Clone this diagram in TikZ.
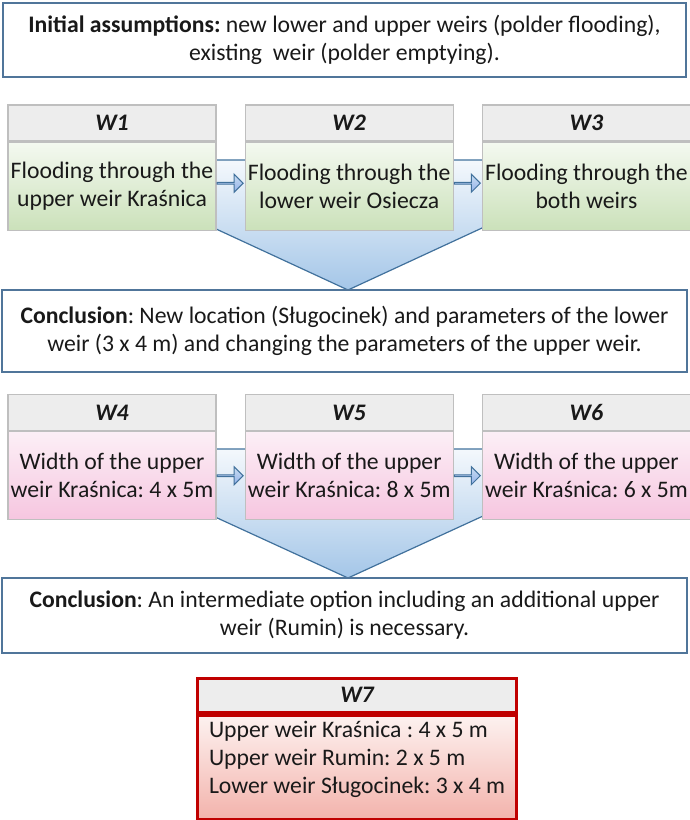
\documentclass[tikz,border=0pt]{standalone}
\usepackage{fontspec}
\setmainfont{Carlito}
\usepackage{xcolor}
\definecolor{colorFrame}{HTML}{50759A}
\definecolor{colorLine}{HTML}{41719C}
\definecolor{colorFunnel}{HTML}{A4C6E8}
\definecolor{colorHead}{HTML}{EDEDED}
\definecolor{colorBorder}{HTML}{BFBFBF}
\definecolor{colorGreenTop}{HTML}{F4F9F0}
\definecolor{colorGreenBot}{HTML}{CBE1BA}
\definecolor{colorPinkTop}{HTML}{FCEFF6}
\definecolor{colorPinkBot}{HTML}{F6C6E0}
\definecolor{colorRedTop}{HTML}{FDF2F0}
\definecolor{colorRedBot}{HTML}{F3B3AC}
\definecolor{colorW7}{HTML}{C00000}
\usepackage{tikz}
\usetikzlibrary{positioning, shapes.arrows}

\begin{document}
\frenchspacing
\begin{tikzpicture}[x=1pt, y=-1pt, font=\fontsize{23.7}{28}\selectfont,
  every node/.style={text=black!90},
  note/.style={draw=colorFrame, line width=1.5pt, fill=white, align=center},
  head/.style={draw=colorBorder, line width=1.2pt, fill=colorHead, minimum width=208pt, minimum height=36pt, font=\fontsize{23.7}{28}\selectfont\bfseries\itshape},
  variant/.style={draw=colorBorder, line width=1.2pt, minimum width=208pt, minimum height=88pt, align=center, inner sep=1pt},
  flood/.style={variant, top color=colorGreenTop, bottom color=colorGreenBot},
  widthv/.style={variant, top color=colorPinkTop, bottom color=colorPinkBot},
  funnel/.style={draw=colorLine, line width=1.2pt, top color=colorFunnel!12, bottom color=colorFunnel},
  flowarrow/.style={single arrow, draw=colorLine, line width=1pt, top color=colorFunnel!60, bottom color=colorFunnel!90!blue, minimum height=26pt, minimum width=18pt, single arrow head extend=4.5pt, inner sep=0pt, anchor=tail}]
\useasboundingbox (0,0) rectangle (689,820);
% funnels behind the variants
\path[funnel] (67,160) -- (629,160) -- (348,290) -- cycle;
\path[funnel] (67,449) -- (629,449) -- (348,578) -- cycle;

\node[note, minimum width=683pt, minimum height=74pt] (init) at (344.5,40) {\textbf{Initial assumptions:} new lower and upper weirs (polder flooding),\\existing\ \ weir (polder emptying).};

% first series
\node[head] (w1h) at (112,123) {W1};
\node[flood, below=0pt of w1h] (w1) {Flooding through the\\upper weir Kraśnica};
\node[head, right=28pt of w1h] (w2h) {W2};
\node[flood, below=0pt of w2h] (w2) {Flooding through the\\lower weir Osiecza};
\node[head, right=28pt of w2h] (w3h) {W3};
\node[flood, below=0pt of w3h] (w3) {Flooding through the\\both weirs};
\node[flowarrow] (a12) at ([yshift=3pt]w1.east) {};
\node[flowarrow] (a23) at ([yshift=3pt]w2.east) {};

\node[note, minimum width=685pt, minimum height=82pt] (c1) at (344.5,331) {\textbf{Conclusion}: New location (Sługocinek) and parameters of the lower\\weir (3 x 4 m) and changing the parameters of the upper weir.};

% second series
\node[head] (w4h) at (112,412.5) {W4};
\node[widthv, below=0pt of w4h] (w4) {Width of the upper\\weir Kraśnica: 4 x 5m};
\node[head, right=28pt of w4h] (w5h) {W5};
\node[widthv, below=0pt of w5h] (w5) {Width of the upper\\weir Kraśnica: 8 x 5m};
\node[head, right=28pt of w5h] (w6h) {W6};
\node[widthv, below=0pt of w6h] (w6) {Width of the upper\\weir Kraśnica: 6 x 5m};
\node[flowarrow] (a45) at (w4.east) {};
\node[flowarrow] (a56) at (w5.east) {};

\node[note, minimum width=685pt, minimum height=75pt] (c2) at (344.5,615.5) {\textbf{Conclusion}: An intermediate option including an additional upper\\weir (Rumin) is necessary.};

% final variant
\node[head, draw=colorW7, line width=3pt, minimum width=319pt, minimum height=34pt] (w7h) at (357,695) {W7};
\node[draw=colorW7, line width=3pt, top color=colorRedTop, bottom color=colorRedBot, below=0pt of w7h, minimum width=319pt, inner ysep=6pt] (w7) {\begin{minipage}[c][92pt][t]{296pt}\raggedright
Upper weir Kraśnica : 4 x 5 m\\Upper weir Rumin: 2 x 5 m\\Lower weir Sługocinek: 3 x 4 m\end{minipage}};
\end{tikzpicture}
\end{document}
